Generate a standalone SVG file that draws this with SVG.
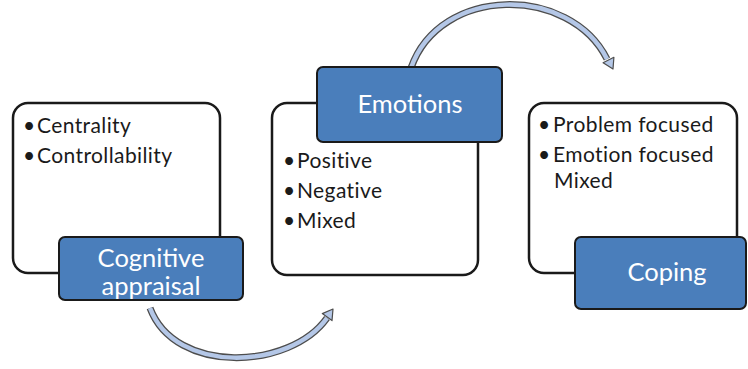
<svg xmlns="http://www.w3.org/2000/svg" width="748" height="369" viewBox="0 0 748 369">
<style>
.panel{fill:#fff;stroke:#1a1a1a;stroke-width:2.5}
.tab{fill:#4a7ebb;stroke:#1a1a1a;stroke-width:2}
.lbl{font-family:Lato,"Open Sans",sans-serif;font-size:25.5px;fill:#fff;text-anchor:middle}
.item{font-family:Lato,"Open Sans",sans-serif;font-size:21px;letter-spacing:0.4px;fill:#1a1a1a}
.arcO{fill:none;stroke:#4d4d4d;stroke-width:7}
.arcI{fill:none;stroke:#b4c7e7;stroke-width:4.5}
.head{fill:#b4c7e7;stroke:#4d4d4d;stroke-width:1.2;stroke-linejoin:round}
</style>
<g id="connectors">
<path class="arcO" d="M150,308 C175,375 290,370 327,318"/>
<path class="arcI" d="M150,308 C175,375 290,370 327,318"/>
<polygon class="head" points="333,309 332,320.6 322.3,313.6"/>
<path class="arcO" d="M411,68 C440,-15 570,-15 607,59"/>
<path class="arcI" d="M411,68 C440,-15 570,-15 607,59"/>
<polygon class="head" points="613,69 613.9,57.3 603.1,62.7"/>
</g>
<g id="appraisal">
<rect class="panel" x="13" y="103" width="207" height="170" rx="15"/>
<text class="item" y="133"><tspan x="23">•</tspan><tspan x="37">Centrality</tspan></text>
<text class="item" y="163"><tspan x="23">•</tspan><tspan x="37">Controllability</tspan></text>
<rect class="tab" x="59" y="237" width="184" height="63" rx="6"/>
<text class="lbl" x="151" y="267">Cognitive</text>
<text class="lbl" x="151" y="295">appraisal</text>
</g>
<g id="emotions">
<rect class="panel" x="272" y="103" width="206" height="172" rx="15"/>
<rect class="tab" x="317" y="67" width="185" height="75" rx="6"/>
<text class="lbl" x="410" y="113">Emotions</text>
<text class="item" y="168"><tspan x="283">•</tspan><tspan x="297">Positive</tspan></text>
<text class="item" y="198"><tspan x="283">•</tspan><tspan x="297">Negative</tspan></text>
<text class="item" y="228"><tspan x="283">•</tspan><tspan x="297">Mixed</tspan></text>
</g>
<g id="coping">
<rect class="panel" x="529" y="103" width="208" height="170" rx="15"/>
<text class="item" y="132"><tspan x="538">•</tspan><tspan x="553">Problem focused</tspan></text>
<text class="item" y="162"><tspan x="538">•</tspan><tspan x="553">Emotion focused</tspan></text>
<text class="item" x="554" y="188">Mixed</text>
<rect class="tab" x="575" y="237" width="171" height="72" rx="6"/>
<text class="lbl" x="667" y="281">Coping</text>
</g>
</svg>
